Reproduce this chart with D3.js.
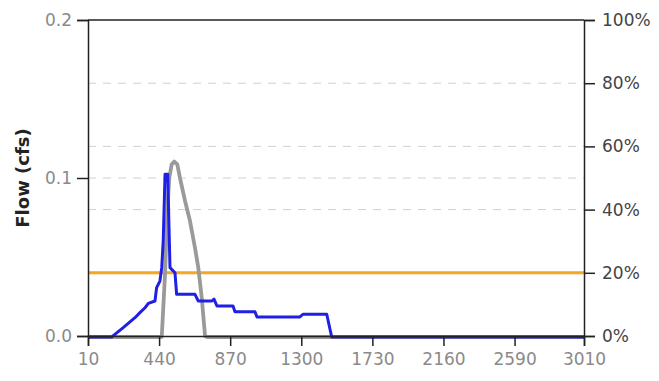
<!DOCTYPE html>
<html>
<head>
<meta charset="utf-8">
<script src="https://cdn.jsdelivr.net/npm/d3@7"></script>
<style>
  body { margin: 0; background: #fff; }
  svg { display: block; font-family: 'DejaVu Sans', Verdana, sans-serif; }
</style>
</head>
<body>
<div id="flow-chart"></div>
<script>
// blue series: [time, flow]
const simFlow = [
  [10, 0], [153, 0], [165, 0.001], [223, 0.0059], [294, 0.0122], [324, 0.0154],
  [355, 0.0185], [375, 0.0213], [415, 0.0228], [425, 0.0312], [445, 0.0354],
  [456, 0.0439], [465, 0.0608], [476, 0.103], [492, 0.103], [506, 0.0439],
  [536, 0.0407], [546, 0.027], [657, 0.027], [677, 0.0228], [760, 0.0228],
  [772, 0.024], [790, 0.0196], [887, 0.0196], [899, 0.016], [1020, 0.016],
  [1032, 0.0127], [1292, 0.0127], [1310, 0.0144], [1454, 0.0144], [1484, 0],
  [3010, 0]
];
// gray series
const obsFlow = [
  [10, 0], [456, 0], [476, 0.0399], [490, 0.0818], [502, 0.1008], [516, 0.1093],
  [532, 0.111], [550, 0.1093], [566, 0.1008], [597, 0.0861], [627, 0.0734],
  [657, 0.0565], [677, 0.0439], [698, 0.0249], [718, 0.0006], [730, 0], [3010, 0]
];
const threshold = 0.04;
const xTicks = [10, 440, 870, 1300, 1730, 2160, 2590, 3010];
const yTicks = [0, 0.1, 0.2];
const pctTicks = [0, 20, 40, 60, 80, 100];

const cfg = {
  width: 659,
  height: 381,
  margin: { top: 20, right: 75, bottom: 45, left: 88 },
  font: "'DejaVu Sans', Verdana, sans-serif",
};

const svg = d3.select('#flow-chart')
  .append('svg')
  .attr('width', cfg.width)
  .attr('height', cfg.height);

const x0 = cfg.margin.left;
const x1 = cfg.width - cfg.margin.right;
const y0 = cfg.height - cfg.margin.bottom;
const y1 = cfg.margin.top;

const xScale = d3.scaleLinear().domain([10, 3010]).range([x0, x1]);
const yScale = d3.scaleLinear().domain([0, 0.2]).range([y0, y1]);
const pScale = d3.scaleLinear().domain([0, 100]).range([y0, y1]);

/* ---------------- GRID ---------------- */
const gridVals = [40, 60, 80].map((p) => pScale(p)).concat([yScale(0.1)]);
svg.append('g')
  .selectAll('line')
  .data(gridVals)
  .enter()
  .append('line')
  .attr('x1', x0)
  .attr('x2', x1)
  .attr('y1', (d) => d)
  .attr('y2', (d) => d)
  .attr('stroke', '#d0d0d0')
  .attr('stroke-width', 1)
  .attr('stroke-dasharray', '8,7');

/* ---------------- SERIES ---------------- */
const line = d3.line()
  .x((d) => xScale(d[0]))
  .y((d) => yScale(d[1]));

svg.append('line')
  .attr('x1', x0)
  .attr('x2', x1)
  .attr('y1', yScale(threshold))
  .attr('y2', yScale(threshold))
  .attr('stroke', '#f5a623')
  .attr('stroke-width', 3);

svg.append('path')
  .datum(obsFlow)
  .attr('d', line)
  .attr('fill', 'none')
  .attr('stroke', '#9a9a9a')
  .attr('stroke-width', 3.8)
  .attr('stroke-linejoin', 'round')
  .attr('transform', 'translate(0,1)');

svg.append('path')
  .datum(simFlow)
  .attr('d', line)
  .attr('fill', 'none')
  .attr('stroke', '#1f1fe6')
  .attr('stroke-width', 3)
  .attr('stroke-linejoin', 'round')
  .attr('transform', 'translate(0,1)');

/* ---------------- AXES ---------------- */
const leftAxis = svg.append('g')
  .attr('transform', `translate(${x0},0)`)
  .call(d3.axisLeft(yScale).tickValues(yTicks).tickFormat(d3.format('.1f')).tickSize(11).tickPadding(5));

const rightAxis = svg.append('g')
  .attr('transform', `translate(${x1},0)`)
  .call(d3.axisRight(pScale).tickValues(pctTicks).tickFormat((d) => d + '%').tickSize(11).tickPadding(7));

const bottomAxis = svg.append('g')
  .attr('transform', `translate(0,${y0})`)
  .call(d3.axisBottom(xScale).tickValues(xTicks).tickFormat(d3.format('d')).tickSize(10).tickPadding(7));

[leftAxis, rightAxis, bottomAxis].forEach((a) => {
  a.attr('font-family', cfg.font).attr('font-size', 17);
  a.select('.domain').attr('stroke', '#222').attr('stroke-width', 1.5);
  a.selectAll('.tick line').attr('stroke', '#222').attr('stroke-width', 1.5);
});
leftAxis.selectAll('text').attr('fill', '#8a8a8a');
bottomAxis.selectAll('text').attr('fill', '#8a8a8a');
rightAxis.selectAll('text').attr('fill', '#444');

// top frame line
svg.append('line')
  .attr('x1', x0)
  .attr('x2', x1)
  .attr('y1', y1)
  .attr('y2', y1)
  .attr('stroke', '#222')
  .attr('stroke-width', 1.5);

svg.append('text')
  .attr('transform', `translate(29,${(y0 + y1) / 2}) rotate(-90)`)
  .attr('text-anchor', 'middle')
  .attr('font-size', 18)
  .attr('font-weight', 'bold')
  .attr('fill', '#222')
  .text('Flow (cfs)');
</script>
</body>
</html>
